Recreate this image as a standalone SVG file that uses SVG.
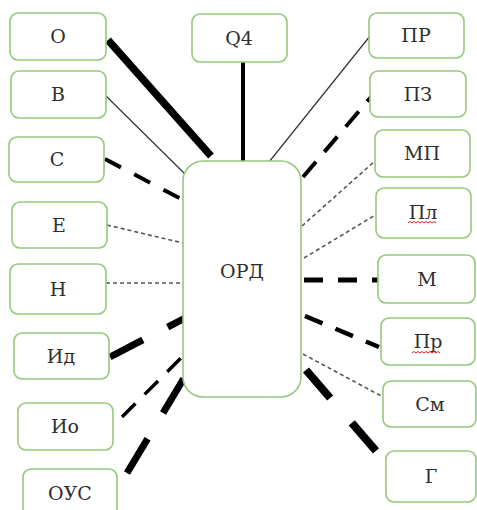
<svg xmlns="http://www.w3.org/2000/svg" width="477" height="510" viewBox="0 0 477 510">
  <style>
    .box { fill: #ffffff; stroke: #95c97c; stroke-width: 1.6; }
    .lbl { font-family: "DejaVu Serif", "Liberation Serif", serif; font-size: 19px; fill: #2e2e2e; text-anchor: middle; }
    .ln { fill: none; stroke: #000; stroke-linecap: butt; }
    .solid-heavy { stroke-width: 7.5; }
    .solid-mid { stroke-width: 4; }
    .solid-thin { stroke: #333; stroke-width: 1.2; }
    .dot-thin { stroke: #555; stroke-width: 1.6; stroke-dasharray: 4 3; }
    .dash-mid { stroke-width: 4; stroke-dasharray: 19 14; }
    .dash-heavy { stroke-width: 7; stroke-dasharray: 37 30; }
    .squiggle { fill: none; stroke: #e02020; stroke-width: 1; }
  </style>

  <rect width="477" height="510" fill="#ffffff"/>

  <!-- connectors -->
  <g id="connectors">
    <line class="ln solid-heavy" x1="108" y1="40" x2="211" y2="156"/>
    <line class="ln solid-thin" x1="106" y1="96" x2="185" y2="174"/>
    <line class="ln dash-mid" style="stroke-dasharray:18 15" x1="105" y1="159" x2="183" y2="200"/>
    <line class="ln dot-thin" x1="107" y1="225" x2="183" y2="243"/>
    <line class="ln dot-thin" x1="106" y1="283" x2="182" y2="283"/>
    <line class="ln dash-heavy" style="stroke-dasharray:37 28" x1="110" y1="357" x2="187" y2="317"/>
    <line class="ln dash-mid" style="stroke-width:3.5;stroke-dasharray:19 13" x1="122" y1="417" x2="185" y2="354"/>
    <line class="ln dash-heavy" style="stroke-dasharray:40 30" x1="127" y1="473" x2="184" y2="378"/>
    <line class="ln solid-mid" x1="243" y1="62" x2="243" y2="161"/>
    <line class="ln solid-thin" x1="370" y1="36" x2="269" y2="162"/>
    <line class="ln dash-mid" style="stroke-dasharray:20 13" x1="303" y1="177" x2="371" y2="97"/>
    <line class="ln dot-thin" x1="302" y1="226" x2="375" y2="161"/>
    <line class="ln dot-thin" x1="304" y1="258" x2="377" y2="214"/>
    <line class="ln dash-mid" style="stroke-width:5;stroke-dasharray:19 15" x1="304" y1="280" x2="385" y2="280"/>
    <line class="ln dash-mid" style="stroke-width:4.5" x1="305" y1="316" x2="379" y2="347"/>
    <line class="ln dot-thin" x1="303" y1="354" x2="383" y2="397"/>
    <line class="ln dash-heavy" style="stroke-width:8;stroke-dasharray:37 33" x1="306" y1="370" x2="376" y2="451"/>
  </g>

  <!-- central node -->
  <g id="node-ORD">
    <rect class="box" x="183" y="161" width="118" height="236" rx="20"/>
    <text class="lbl" x="242" y="278">ОРД</text>
  </g>

  <!-- left column -->
  <g id="node-O">
    <rect class="box" x="10" y="13" width="96" height="47" rx="8"/>
    <text class="lbl" x="58" y="43">О</text>
  </g>
  <g id="node-V">
    <rect class="box" x="11" y="71" width="95" height="47" rx="8"/>
    <text class="lbl" x="58" y="101">В</text>
  </g>
  <g id="node-S">
    <rect class="box" x="9" y="137" width="95" height="45" rx="8"/>
    <text class="lbl" x="57" y="166">С</text>
  </g>
  <g id="node-E">
    <rect class="box" x="12" y="202" width="95" height="46" rx="8"/>
    <text class="lbl" x="59" y="232">Е</text>
  </g>
  <g id="node-N">
    <rect class="box" x="10" y="264" width="96" height="50" rx="8"/>
    <text class="lbl" x="58" y="296">Н</text>
  </g>
  <g id="node-Id">
    <rect class="box" x="14" y="333" width="95" height="46" rx="8"/>
    <text class="lbl" x="61" y="363">Ид</text>
  </g>
  <g id="node-Io">
    <rect class="box" x="18" y="403" width="95" height="47" rx="8"/>
    <text class="lbl" x="65" y="433">Ио</text>
  </g>
  <g id="node-OUS">
    <rect class="box" x="23" y="469" width="94" height="52" rx="8"/>
    <text class="lbl" x="70" y="500">ОУС</text>
  </g>

  <!-- top -->
  <g id="node-Q4">
    <rect class="box" x="192" y="14" width="95" height="48" rx="8"/>
    <text class="lbl" x="239" y="45">Q4</text>
  </g>

  <!-- right column -->
  <g id="node-PR">
    <rect class="box" x="369" y="13" width="95" height="45" rx="8"/>
    <text class="lbl" x="416" y="42">ПР</text>
  </g>
  <g id="node-PZ">
    <rect class="box" x="370" y="71" width="96" height="46" rx="8"/>
    <text class="lbl" x="418" y="101">ПЗ</text>
  </g>
  <g id="node-MP">
    <rect class="box" x="375" y="130" width="95" height="47" rx="8"/>
    <text class="lbl" x="422" y="160">МП</text>
  </g>
  <g id="node-Pl">
    <rect class="box" x="376" y="188" width="95" height="50" rx="8"/>
    <text class="lbl" x="423" y="219">Пл</text>
    <path class="squiggle" d="M408 223 l2 -1.5 l2 1.5 l2 -1.5 l2 1.5 l2 -1.5 l2 1.5 l2 -1.5 l2 1.5 l2 -1.5 l2 1.5 l2 -1.5 l2 1.5 l2 -1.5 l2 1.5"/>
  </g>
  <g id="node-M">
    <rect class="box" x="378" y="255" width="97" height="48" rx="8"/>
    <text class="lbl" x="427" y="286">М</text>
  </g>
  <g id="node-Pr">
    <rect class="box" x="381" y="318" width="94" height="47" rx="8"/>
    <text class="lbl" x="428" y="348">Пр</text>
    <path class="squiggle" d="M412 353 l2 -1.5 l2 1.5 l2 -1.5 l2 1.5 l2 -1.5 l2 1.5 l2 -1.5 l2 1.5 l2 -1.5 l2 1.5 l2 -1.5 l2 1.5 l2 -1.5 l2 1.5"/>
  </g>
  <g id="node-Sm">
    <rect class="box" x="383" y="381" width="93" height="46" rx="8"/>
    <text class="lbl" x="430" y="411">См</text>
  </g>
  <g id="node-G">
    <rect class="box" x="386" y="451" width="90" height="51" rx="8"/>
    <text class="lbl" x="431" y="483">Г</text>
  </g>
</svg>
